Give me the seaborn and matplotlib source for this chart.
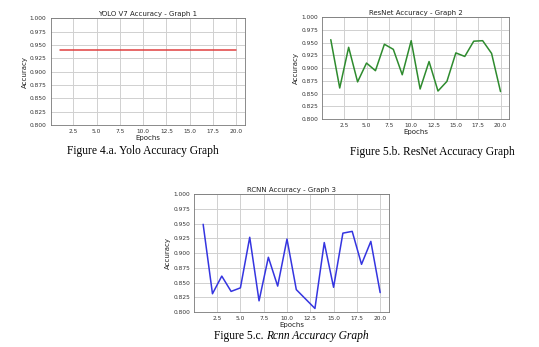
import matplotlib
matplotlib.use("Agg")
import matplotlib.pyplot as plt
import seaborn as sns
import pandas as pd

epochs = list(range(1, 21))
yolo_acc = [0.94] * 20
resnet_acc = [0.956, 0.861, 0.941, 0.873, 0.910, 0.895, 0.947, 0.937, 0.887, 0.954,
              0.859, 0.913, 0.855, 0.874, 0.930, 0.923, 0.953, 0.954, 0.929, 0.854]
rcnn_acc = [0.949, 0.831, 0.861, 0.835, 0.841, 0.927, 0.819, 0.893, 0.844, 0.924,
            0.838, 0.822, 0.806, 0.918, 0.842, 0.934, 0.937, 0.881, 0.920, 0.833]

titles = ["YOLO V7 Accuracy - Graph 1", "ResNet Accuracy - Graph 2", "RCNN Accuracy - Graph 3"]
captions = ["Figure 4.a. Yolo Accuracy Graph", "Figure 5.b. ResNet Accuracy Graph"]
caption3 = ("Figure 5.c. ", "Rcnn Accuracy Graph")
colors = ["#e04040", "#2e8b2e", "#3535e0"]

sns.set_theme(style="whitegrid")
plt.rcParams['font.family'] = ['DejaVu Sans']

W, H = 539, 347
fig = plt.figure(figsize=(W / 100, H / 100), dpi=100)
fig.patch.set_facecolor("white")

def px_axes(left, top, right, bottom):
    return fig.add_axes([left / W, (H - bottom) / H, (right - left) / W, (bottom - top) / H])

boxes = [(50.7, 18.3, 245, 125), (322.3, 17.3, 509, 119), (194.3, 194.3, 389, 312)]
series = [yolo_acc, resnet_acc, rcnn_acc]

for box, vals, title, col in zip(boxes, series, titles, colors):
    ax = px_axes(*box)
    df = pd.DataFrame({"Epochs": epochs, "Accuracy": vals})
    sns.lineplot(data=df, x="Epochs", y="Accuracy", ax=ax, color=col, linewidth=1.1)
    ax.set_ylim(0.8, 1.0)
    ax.set_yticks([0.8, 0.825, 0.85, 0.875, 0.9, 0.925, 0.95, 0.975, 1.0])
    ax.set_xticks([2.5, 5.0, 7.5, 10.0, 12.5, 15.0, 17.5, 20.0])
    ax.yaxis.set_major_formatter(matplotlib.ticker.FormatStrFormatter("%.3f"))
    ax.xaxis.set_major_formatter(matplotlib.ticker.FormatStrFormatter("%.1f"))
    ax.tick_params(labelsize=4.2, length=1.5, width=0.5, pad=1.5, colors="#333333")
    ax.set_title(title, fontsize=5.0, pad=2, color="#222222")
    ax.set_xlabel("Epochs", fontsize=5.0, labelpad=0.5, color="#222222")
    ax.set_ylabel("Accuracy", fontsize=5.0, labelpad=1.5, color="#222222")
    ax.grid(True, color="#d0d0d0", linewidth=0.7)
    for s in ax.spines.values():
        s.set_color("#777777")
        s.set_linewidth(0.6)

fs = 8.3
fig.text(143 / W, 1 - 151 / H, captions[0], fontsize=fs, family="Liberation Serif",
         ha="center", va="center", color="black")
fig.text(432.5 / W, 1 - 152 / H, captions[1], fontsize=fs, family="Liberation Serif",
         ha="center", va="center", color="black")

fig.canvas.draw()
r = fig.canvas.get_renderer()
t1 = fig.text(0, 1 - 336 / H, caption3[0], fontsize=fs, family="Liberation Serif",
              ha="left", va="center", color="black")
t2 = fig.text(0, 1 - 336 / H, caption3[1], fontsize=fs, family="Liberation Serif",
              style="italic", ha="left", va="center", color="black")
w1 = t1.get_window_extent(r).width
w2 = t2.get_window_extent(r).width
start = 291.5 - (w1 + w2) / 2
t1.set_x(start / W)
t2.set_x((start + w1) / W)

fig.savefig("out.png", dpi=100)
